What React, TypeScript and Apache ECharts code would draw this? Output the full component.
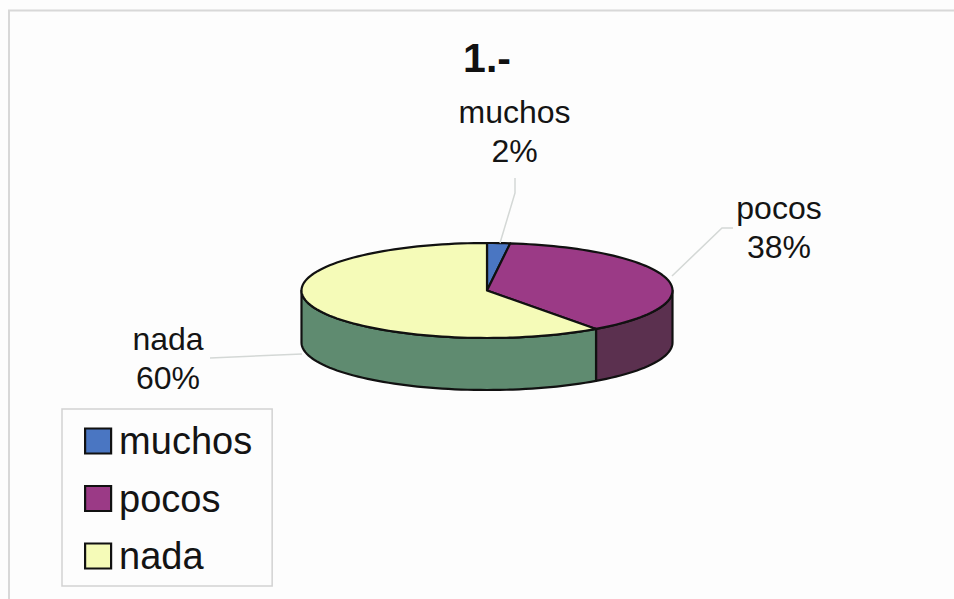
import React, { useEffect, useRef } from "react";
import * as echarts from "echarts";

const categories = ["muchos", "pocos", "nada"];
const shares = [2, 38, 60];
const topColors = ["#4a76c2", "#9b3a86", "#f5fbb8"];
const sideColors = ["#2f4c7e", "#5b304f", "#5f8b70"];

// Where each slice's caption sits and the leader line running to the pie.
const captionCentres = [
  [514.5, 131],
  [779, 227],
  [168, 358],
];
const leaderPaths = [
  [[515, 178], [515, 193], [500, 243]],
  [[733, 228], [722, 228], [672, 276]],
  [[210, 358], [302, 354]],
];

const FONT = '"Liberation Sans", Arial, sans-serif';
const CX = 487;
const CY = 290.5;
const RX = 185.5;
const RY = 47.5;
const DEPTH = 52;
const OUTLINE = "#111111";

const rimPoint = (deg: number, dy = 0) => {
  const a = (deg * Math.PI) / 180;
  return [CX + RX * Math.sin(a), CY - RY * Math.cos(a) + dy];
};

const arcPoints = (from: number, to: number, dy = 0) => {
  const steps = Math.max(2, Math.ceil(Math.abs(to - from) / 2));
  const pts: number[][] = [];
  for (let i = 0; i <= steps; i++) pts.push(rimPoint(from + ((to - from) * i) / steps, dy));
  return pts;
};

const sliceRenderer = (index: number) => (_params: any, api: any) => {
  const total = shares.reduce((s, v) => s + v, 0);
  const before = shares.slice(0, index).reduce((s, v) => s + v, 0);
  const value = api.value(0);
  const start = (before / total) * 360;
  const end = ((before + value) / total) * 360;

  const children: any[] = [];

  // Only the front half of the rim (90° to 270° clockwise from the top) shows.
  const sideFrom = Math.max(start, 90);
  const sideTo = Math.min(end, 270);
  if (sideTo > sideFrom) {
    children.push({
      type: "polygon",
      shape: { points: [...arcPoints(sideFrom, sideTo), ...arcPoints(sideTo, sideFrom, DEPTH)] },
      style: { fill: sideColors[index], stroke: OUTLINE, lineWidth: 2.2, lineJoin: "round" },
    });
  }
  children.push({
    type: "polygon",
    shape: { points: [[CX, CY], ...arcPoints(start, end)] },
    style: { fill: topColors[index], stroke: OUTLINE, lineWidth: 2.2, lineJoin: "round" },
  });
  children.push({
    type: "polyline",
    shape: { points: leaderPaths[index] },
    style: { fill: "none", stroke: "#d4d8d6", lineWidth: 1.5 },
  });
  children.push({
    type: "text",
    x: captionCentres[index][0],
    y: captionCentres[index][1],
    style: {
      text: `${categories[index]}\n${value}%`,
      fill: "#141414",
      fontSize: 32,
      fontFamily: FONT,
      lineHeight: 39,
      align: "center",
      verticalAlign: "middle",
    },
  });
  return { type: "group", children };
};

export default function App() {
  const ref = useRef<HTMLDivElement>(null);

  useEffect(() => {
    document.body.style.margin = "0";
    const chart = echarts.init(ref.current!, undefined, { renderer: "svg" });
    chart.setOption({
      animation: false,
      backgroundColor: "#fdfdfd",
      title: {
        text: "1.-",
        left: 482,
        top: 32,
        textAlign: "center",
        textStyle: { fontSize: 41, fontWeight: "bold", fontFamily: FONT, color: "#111111" },
      },
      legend: {
        orient: "vertical",
        left: 62,
        top: 409,
        padding: [13, 20, 11, 22],
        itemWidth: 26,
        itemHeight: 25,
        itemGap: 19.5,
        borderColor: "#d2d2d2",
        borderWidth: 1.5,
        icon: "rect",
        selectedMode: false,
        textStyle: { fontSize: 38, lineHeight: 38, fontFamily: FONT, color: "#141414", padding: [0, 0, 0, 3] },
        data: categories.map((name) => ({
          name,
          itemStyle: { borderColor: OUTLINE, borderWidth: 2.2 },
        })),
      },
      graphic: [
        {
          type: "polyline",
          shape: { points: [[9, 599], [9, 10.5], [954, 10.5]] },
          style: { fill: "none", stroke: "#d8d8d8", lineWidth: 2 },
          silent: true,
        },
      ],
      series: categories.map((name, i) => ({
        type: "custom",
        name,
        coordinateSystem: "none",
        itemStyle: { color: topColors[i] },
        data: [[shares[i]]],
        renderItem: sliceRenderer(i),
      })),
    });
    return () => chart.dispose();
  }, []);

  return <div ref={ref} style={{ width: 954, height: 599 }} />;
}
